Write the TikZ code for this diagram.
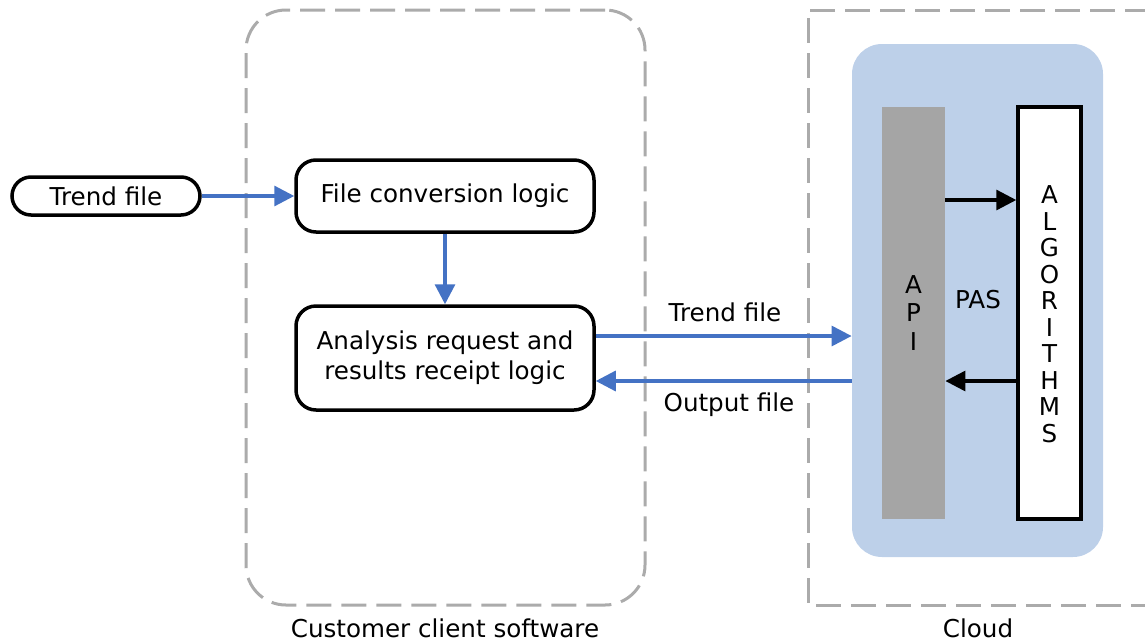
\documentclass[tikz,border=0pt]{standalone}
\usepackage{fontspec}
\setmainfont{DejaVu Sans}
\usetikzlibrary{arrows.meta}
\definecolor{flowblue}{HTML}{4472C4}
\definecolor{panelblue}{HTML}{BDD0E9}
\definecolor{apigray}{HTML}{A5A5A5}
\definecolor{framegray}{HTML}{ABABAB}
\tikzset{
  lbl/.style={font=\fontsize{12.3}{15}\selectfont, inner sep=0pt},
  roundbox/.style={draw=black, line width=1.75pt, fill=white, rounded corners=10pt,
    font=\fontsize{12.3}{15}\selectfont, align=center, inner sep=0pt},
  container/.style={draw=framegray, line width=1.5pt, dash pattern=on 12.5pt off 5pt},
  bluearrow/.style={draw=flowblue, line width=1.6pt, -{Triangle[length=10pt,width=10pt]}},
  blackarrow/.style={draw=black, line width=1.6pt, -{Triangle[length=10pt,width=10pt]}},
}
\begin{document}
\begin{tikzpicture}[x=0.5pt, y=-0.5pt]
\useasboundingbox (0,0) rectangle (1145,643);
\begin{scope}
\clip (0,0) rectangle (1145,643);

% client container
\node[container, rounded corners=20pt, minimum width=199.5pt, minimum height=297.5pt]
  (client) at (445.5,307.5) {};
\node[lbl] (clientlbl) at (445,628) {Customer client software};

% cloud container (open to the right)
\draw[container] (1150,10) -- (808,10) -- (808,605) -- (1150,605);
\node[lbl] (cloudlbl) at (978,628) {Cloud};

% PAS panel
\node[fill=panelblue, rounded corners=15pt, minimum width=125.5pt, minimum height=256.5pt, inner sep=0pt]
  (panel) at (977.5,300.5) {};
\node[fill=apigray, minimum width=31.5pt, minimum height=206pt, inner sep=0pt]
  (api) at (913.5,313) {};
\node[font=\fontsize{12.3}{14.25}\selectfont, align=center, inner sep=0pt]
  (apitxt) at (913.5,313) {A\\P\\I};
\node[draw=black, line width=1.75pt, fill=white, minimum width=31.5pt, minimum height=206pt, inner sep=0pt]
  (algo) at (1049.5,313) {};
\node[font=\fontsize{12.3}{13.25}\selectfont, align=center, inner sep=0pt]
  (algotxt) at (1049.5,314) {A\\L\\G\\O\\R\\I\\T\\H\\M\\S};
\node[lbl] (pas) at (978,300) {PAS};

% client-side boxes
\node[roundbox, rounded corners=9.5pt, minimum width=94pt, minimum height=19pt]
  (trend) at (106,196) {Trend file};
\node[roundbox, minimum width=149pt, minimum height=36pt]
  (fcl) at (445,196) {File conversion logic};
\node[roundbox, minimum width=149pt, minimum height=52pt]
  (ana) at (445,358) {Analysis request and\\results receipt logic};

% connectors
\draw[bluearrow] (trend) -- (fcl);
\draw[bluearrow] (fcl) -- (ana);
\draw[bluearrow] (ana.east |- 0,336) -- (panel.west |- 0,336);
\draw[bluearrow] (panel.west |- 0,381) -- (ana.east |- 0,381);
\draw[blackarrow] (api.east |- 0,200) -- (algo.west |- 0,200);
\draw[blackarrow] (algo.west |- 0,381) -- (api.east |- 0,381);

\node[lbl] (sendlbl) at (725,312) {Trend file};
\node[lbl] (recvlbl) at (729,405) {Output file};
\end{scope}
\end{tikzpicture}
\end{document}
